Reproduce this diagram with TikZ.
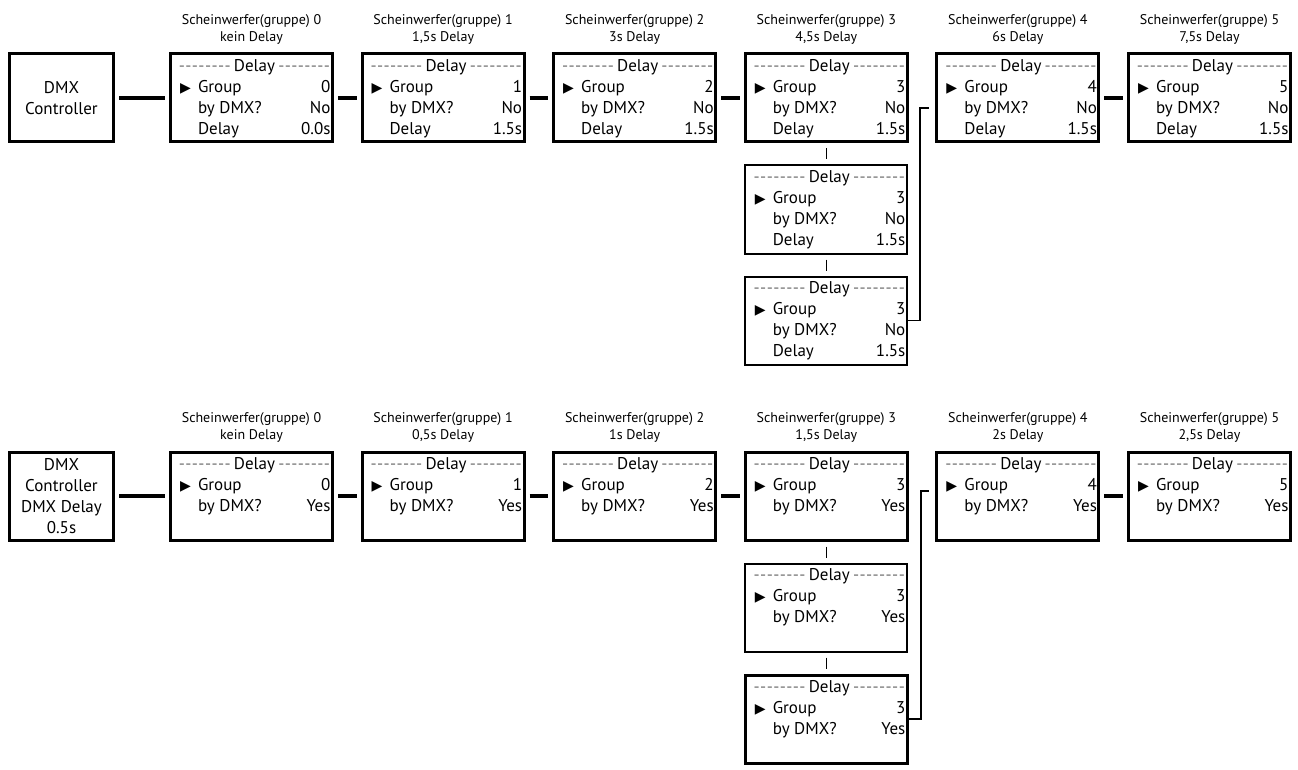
\documentclass[tikz,border=0pt]{standalone}
\usepackage{fontspec}
\setmainfont{PT Sans}
\newfontfamily\symfont{DejaVu Sans}
\usetikzlibrary{calc,positioning}

% display text of one device
\newcommand{\dashfill}{{\color{black!55}\xleaders\hbox{-}\hfill}}
\newcommand{\pointer}{\hspace*{7.5pt}\makebox[18pt][l]{\symfont\fontsize{14}{14}\selectfont ▶}}
\newcommand{\panelhead}{\leavevmode\hspace*{6pt}\dashfill\,Delay\,\dashfill\par}
\newcommand{\panelfull}[3]{%
  \parbox[c][86pt][t]{158pt}{\fontsize{17}{21}\selectfont\vspace*{4pt}%
    \panelhead
    \pointer Group\hfill #1\par
    \hspace*{25.5pt}by DMX?\hfill #2\par
    \hspace*{25.5pt}Delay\hfill #3}}
\newcommand{\panelshort}[2]{%
  \parbox[c][86pt][t]{158pt}{\fontsize{17}{21}\selectfont\vspace*{4pt}%
    \panelhead
    \pointer Group\hfill #1\par
    \hspace*{25.5pt}by DMX?\hfill #2}}

\tikzset{
  panel/.style={draw, line width=3pt, minimum width=162pt, minimum height=88pt, inner sep=0pt},
  thinpanel/.style={panel, line width=2pt},
  ctrl/.style={panel, minimum width=104pt, align=center, font=\fontsize{17}{21}\selectfont},
  caption/.style={align=center, inner sep=0pt, font=\fontsize{14}{17}\selectfont},
  link/.style={line width=3.5pt, shorten <=4pt, shorten >=4pt},
  stacklink/.style={line width=1.5pt, shorten <=5pt, shorten >=5pt},
  bendlink/.style={line width=1.8pt, shorten >=6pt}
}

\begin{document}
\begin{tikzpicture}[x=1pt, y=-1pt]
  \useasboundingbox (0,0) rectangle (1298,770);

  % Top row: delay set in every device
  \node[ctrl] (topctrl) at (61.5,98) {DMX\\Controller};
  \foreach \i/\cap/\dly in {0/kein Delay/0.0s, 1/{1,5s Delay}/1.5s, 2/3s Delay/1.5s,
                            3/{4,5s Delay}/1.5s, 4/6s Delay/1.5s, 5/{7,5s Delay}/1.5s} {
    \node[panel] (top\i) at (251.5+191.6*\i,98) {\panelfull{\i}{No}{\dly}};
    \node[caption, above=8pt of top\i] (topcap\i) {Scheinwerfer(gruppe) \i\\\cap};
  }
  \node[thinpanel, below=21pt of top3] (topstack1) {\panelfull{3}{No}{1.5s}};
  \node[thinpanel, below=21pt of topstack1] (topstack2) {\panelfull{3}{No}{1.5s}};

  \draw[link] (topctrl) -- (top0);
  \foreach \a/\b in {0/1, 1/2, 2/3, 4/5}
    \draw[link] (top\a) -- (top\b);
  \draw[stacklink] (top3) -- (topstack1);
  \draw[stacklink] (topstack1) -- (topstack2);
  \draw[bendlink] (topstack2.east) -- ++(12,0) |- ($(top4.west)+(0,10)$);

  % Bottom row: delay sent by the controller
  \node[ctrl] (botctrl) at (61.5,496) {DMX\\Controller\\DMX Delay\\0.5s};
  \foreach \i/\cap in {0/kein Delay, 1/{0,5s Delay}, 2/1s Delay,
                       3/{1,5s Delay}, 4/2s Delay, 5/{2,5s Delay}} {
    \node[panel] (bot\i) at (251.5+191.6*\i,496) {\panelshort{\i}{Yes}};
    \node[caption, above=8pt of bot\i] (botcap\i) {Scheinwerfer(gruppe) \i\\\cap};
  }
  \node[thinpanel, below=21pt of bot3] (botstack1) {\panelshort{3}{Yes}};
  \node[panel, below=21pt of botstack1] (botstack2) {\panelshort{3}{Yes}};

  \draw[link] (botctrl) -- (bot0);
  \foreach \a/\b in {0/1, 1/2, 2/3, 4/5}
    \draw[link] (bot\a) -- (bot\b);
  \draw[stacklink] (bot3) -- (botstack1);
  \draw[stacklink] (botstack1) -- (botstack2);
  \draw[bendlink] (botstack2.east) -- ++(12,0) |- ($(bot4.west)+(0,-5)$);
\end{tikzpicture}
\end{document}
